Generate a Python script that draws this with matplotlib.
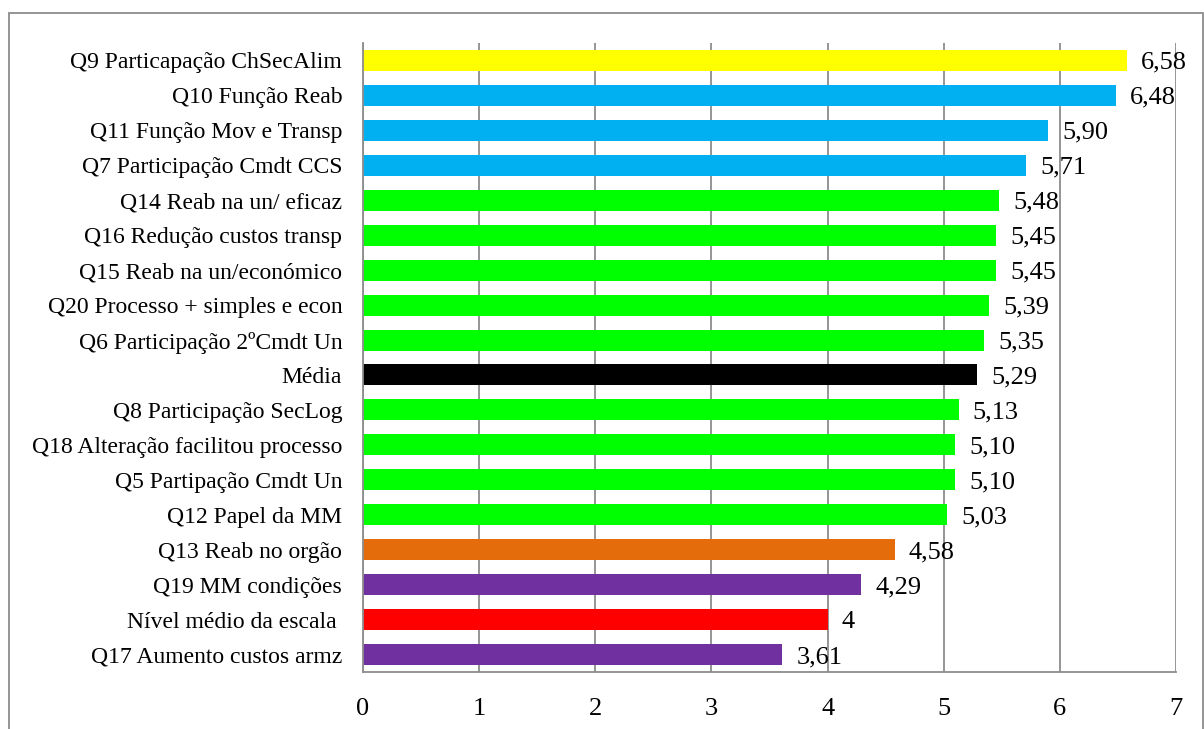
import matplotlib.pyplot as plt
from matplotlib.patches import Rectangle

plt.rcParams['font.family'] = ['Liberation Serif', 'DejaVu Serif']

# Questions from top to bottom with their mean scores
labels = [
    "Q9 Particapação ChSecAlim",
    "Q10 Função Reab",
    "Q11 Função Mov e Transp",
    "Q7 Participação Cmdt CCS",
    "Q14 Reab na un/ eficaz",
    "Q16 Redução custos transp",
    "Q15 Reab na un/económico",
    "Q20 Processo + simples e econ",
    "Q6 Participação 2ºCmdt Un",
    "Média",
    "Q8 Participação SecLog",
    "Q18 Alteração facilitou processo",
    "Q5 Partipação Cmdt Un",
    "Q12 Papel da MM",
    "Q13 Reab no orgão",
    "Q19 MM condições",
    "Nível médio da escala ",
    "Q17 Aumento custos armz",
]
values = [6.58, 6.48, 5.90, 5.71, 5.48, 5.45, 5.45, 5.39, 5.35, 5.29,
          5.13, 5.10, 5.10, 5.03, 4.58, 4.29, 4, 3.61]
value_text = ["6,58", "6,48", "5,90", "5,71", "5,48", "5,45", "5,45", "5,39", "5,35",
              "5,29", "5,13", "5,10", "5,10", "5,03", "4,58", "4,29", "4", "3,61"]
colors = ["#FFFF00", "#00B0F0", "#00B0F0", "#00B0F0", "#00FF00", "#00FF00", "#00FF00",
          "#00FF00", "#00FF00", "#000000", "#00FF00", "#00FF00", "#00FF00", "#00FF00",
          "#E46C0A", "#7030A0", "#FF0000", "#7030A0"]
x_ticks = [0, 1, 2, 3, 4, 5, 6, 7]

fig = plt.figure(figsize=(12.04, 7.29), dpi=100)
ax = fig.add_axes([363 / 1204, 1 - 672 / 729, (1176 - 363) / 1204, (672 - 43) / 729])

ypos = list(range(len(labels)))
ax.barh(ypos, values, height=0.6, color=colors, zorder=2)
for y, v, t in zip(ypos, values, value_text):
    ax.text(v + 0.12, y + 0.07, t, va='center', ha='left', fontsize=19, zorder=4)

ax.set_ylim(len(labels) - 0.5, -0.5)
ax.set_xlim(0, 7)
ax.set_yticks(ypos)
ax.set_yticklabels(labels, fontsize=17)
ax.set_xticks(x_ticks)
ax.set_xticklabels([str(t) for t in x_ticks], fontsize=19)
ax.tick_params(axis='y', length=0, pad=15)
ax.tick_params(axis='x', length=0, pad=19)

ax.grid(axis='x', color='#8C8C8C', linewidth=1.3, zorder=0)
for side in ['top', 'right']:
    ax.spines[side].set_visible(False)
for side in ['left', 'bottom']:
    ax.spines[side].set_color('#8C8C8C')
    ax.spines[side].set_linewidth(1.3)
    ax.spines[side].set_zorder(3)

# outer chart frame
fig.patches.append(Rectangle((9 / 1204, -0.05), (1203 - 9) / 1204, 1.05 - 13 / 729,
                             transform=fig.transFigure, fill=False,
                             edgecolor='#8C8C8C', linewidth=1.3))

fig.savefig("out.png", dpi=100)
